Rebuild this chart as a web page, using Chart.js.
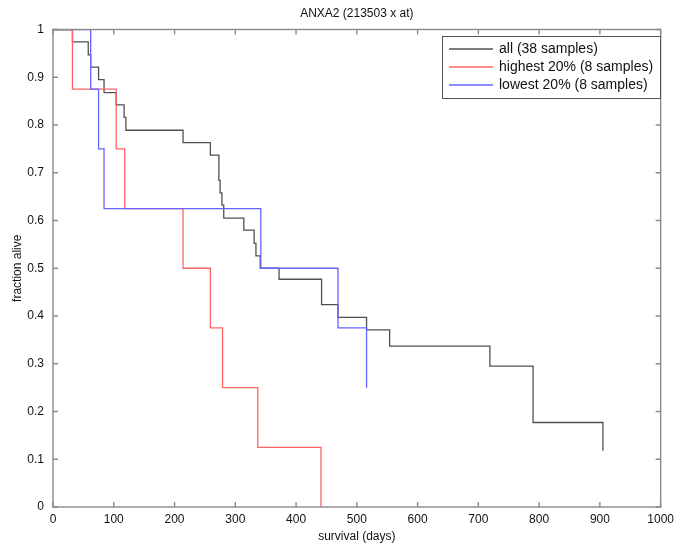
<!DOCTYPE html>
<html>
<head>
<meta charset="utf-8">
<script src="https://cdn.jsdelivr.net/npm/chart.js@4.4.1/dist/chart.umd.min.js"></script>
<style>
  html, body { margin: 0; padding: 0; background: #fff; }
  #wrap { width: 679px; height: 553px; }
</style>
</head>
<body>
<div id="wrap"><canvas id="km"></canvas></div>
<script>
// survival curves (day, fraction alive)
const allDays  = [0, 32, 58, 62, 75, 84, 104, 117, 120, 214, 259, 273, 275, 278, 281, 314, 331, 334, 341, 372, 442, 469, 516, 554, 719, 790, 905];
const allFrac  = [1, 0.974, 0.947, 0.921, 0.895, 0.868, 0.842, 0.816, 0.789, 0.763, 0.737, 0.684, 0.658, 0.632, 0.605, 0.580, 0.552, 0.526, 0.500, 0.477, 0.424, 0.397, 0.371, 0.337, 0.295, 0.177, 0.118];
const highDays = [0, 32, 104, 118, 214, 259, 279, 337, 441];
const highFrac = [1, 0.875, 0.75, 0.625, 0.5, 0.375, 0.25, 0.125, 0];
const lowDays  = [0, 62, 75, 84, 342, 469, 516];
const lowFrac  = [1, 0.875, 0.75, 0.625, 0.5, 0.375, 0.25];

const seriesLabels = ['all (38 samples)', 'highest 20% (8 samples)', 'lowest 20% (8 samples)'];
const seriesColors = ['rgb(80,80,80)', 'rgb(255,100,100)', 'rgb(100,100,255)'];
const xTicks = [0, 100, 200, 300, 400, 500, 600, 700, 800, 900, 1000];
const yTicks = [0, 0.1, 0.2, 0.3, 0.4, 0.5, 0.6, 0.7, 0.8, 0.9, 1];

const FONT = '"Liberation Sans", Arial, Helvetica, sans-serif';

function pts(days, frac) {
  return days.map((d, i) => ({ x: d, y: frac[i] }));
}

// box round the plot with inward ticks on all four sides
const framePlugin = {
  id: 'frame',
  afterDatasetsDraw(chart) {
    const { ctx, chartArea: a, scales } = chart;
    ctx.save();
    ctx.strokeStyle = '#8a8a8a';
    ctx.lineWidth = 1.4;
    ctx.strokeRect(a.left, a.top, a.right - a.left, a.bottom - a.top);
    ctx.beginPath();
    xTicks.forEach(v => {
      const x = scales.x.getPixelForValue(v);
      ctx.moveTo(x, a.bottom); ctx.lineTo(x, a.bottom - 5);
      ctx.moveTo(x, a.top); ctx.lineTo(x, a.top + 5);
    });
    yTicks.forEach(v => {
      const y = scales.y.getPixelForValue(v);
      ctx.moveTo(a.left, y); ctx.lineTo(a.left + 5, y);
      ctx.moveTo(a.right, y); ctx.lineTo(a.right - 5, y);
    });
    ctx.stroke();
    ctx.restore();
  }
};

// legend box inside the plot, top right
const boxLegend = {
  id: 'boxLegend',
  afterDraw(chart) {
    const { ctx } = chart;
    const left = 442, top = 36, w = 218, h = 62;
    ctx.save();
    ctx.fillStyle = '#fff';
    ctx.fillRect(left, top, w, h);
    ctx.strokeStyle = '#555';
    ctx.lineWidth = 1;
    ctx.strokeRect(left + 0.5, top + 0.5, w, h);
    ctx.font = '14px ' + FONT;
    ctx.textBaseline = 'middle';
    seriesLabels.forEach((lab, i) => {
      const y = 49 + i * 18;
      ctx.strokeStyle = seriesColors[i];
      ctx.lineWidth = 1.3;
      ctx.beginPath();
      ctx.moveTo(449, y); ctx.lineTo(493, y);
      ctx.stroke();
      ctx.fillStyle = '#111';
      ctx.fillText(lab, 499, y);
    });
    ctx.restore();
  }
};

const mkSet = (i, data, order) => ({
  label: seriesLabels[i],
  data: data,
  borderColor: seriesColors[i],
  borderWidth: 1.3,
  pointRadius: 0,
  stepped: 'before',
  fill: false,
  order: order
});

new Chart(document.getElementById('km'), {
  type: 'line',
  data: {
    datasets: [
      mkSet(0, pts(allDays, allFrac), 3),
      mkSet(1, pts(highDays, highFrac), 2),
      mkSet(2, pts(lowDays, lowFrac), 1)
    ]
  },
  options: {
    responsive: true,
    maintainAspectRatio: false,
    animation: false,
    layout: { padding: { left: 0, right: 16, top: 0, bottom: 0 } },
    plugins: {
      legend: { display: false },
      tooltip: { enabled: false },
      title: {
        display: true,
        text: 'ANXA2 (213503 x at)',
        fullSize: false,
        color: '#111',
        font: { family: FONT, size: 12, weight: 'normal' },
        padding: { top: 6, bottom: 9.1 }
      }
    },
    scales: {
      x: {
        type: 'linear',
        min: 0,
        max: 1000,
        afterFit: s => { s.height = 46; },
        afterBuildTicks: s => { s.ticks = xTicks.map(v => ({ value: v })); },
        grid: { display: false, drawTicks: false },
        border: { display: false },
        ticks: {
          color: '#111',
          padding: 5,
          maxRotation: 0,
          font: { family: FONT, size: 12 },
          callback: v => String(v)
        },
        title: {
          display: true,
          text: 'survival (days)',
          color: '#111',
          font: { family: FONT, size: 12 },
          padding: { top: 2, bottom: 9 }
        }
      },
      y: {
        min: 0,
        max: 1,
        afterFit: s => { s.width = 53; },
        afterBuildTicks: s => { s.ticks = yTicks.map(v => ({ value: v })); },
        grid: { display: false, drawTicks: false },
        border: { display: false },
        ticks: {
          color: '#111',
          padding: 9,
          font: { family: FONT, size: 12 },
          callback: v => String(Math.round(v * 10) / 10)
        },
        title: {
          display: true,
          text: 'fraction alive',
          color: '#111',
          font: { family: FONT, size: 12 },
          padding: { top: 10, bottom: 0 }
        }
      }
    }
  },
  plugins: [framePlugin, boxLegend]
});
</script>
</body>
</html>
